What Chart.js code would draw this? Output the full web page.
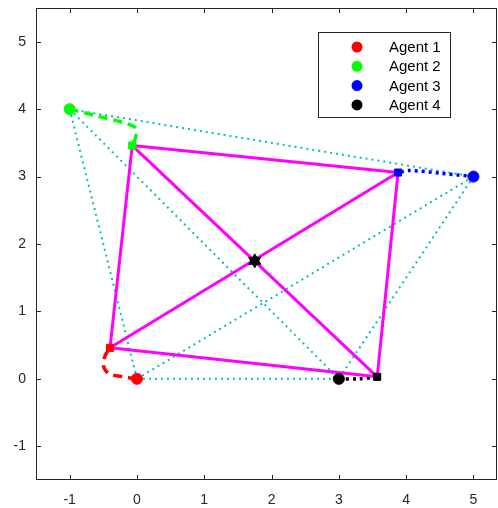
<!DOCTYPE html>
<html>
<head>
<meta charset="utf-8">
<script src="https://cdn.jsdelivr.net/npm/chart.js@4"></script>
<style>
body{margin:0;background:#fff;overflow:hidden;}
#wrap{width:498px;height:508px;}
canvas{display:block;}
</style>
</head>
<body>
<div id="wrap"><canvas id="canvas" width="498" height="508"></canvas></div>
<script>
// agent names and colours
const agents=["Agent 1","Agent 2","Agent 3","Agent 4"];
const agentColors=["#ff0000","#00ff00","#0000ff","#000000"];
// start positions
const startX=[0,-1,5,3];
const startY=[0,4,3,0];
// final positions
const endX=[-0.4,-0.07,3.88,3.57];
const endY=[0.46,3.46,3.06,0.03];
// trajectories
const path1X=[0,-0.2,-0.42,-0.5,-0.47,-0.4];
const path1Y=[0,0.03,0.08,0.2,0.35,0.46];
const path2X=[-1,-0.6,-0.2,-0.02,-0.02,-0.07];
const path2Y=[4,3.9,3.8,3.72,3.58,3.46];
const path3X=[5,4.5,4.05,3.88];
const path3Y=[3,3.05,3.09,3.06];
const path4X=[3,3.3,3.57];
const path4Y=[0,0,0.03];
// centre of formation
const centerX=[1.75];
const centerY=[1.75];
// links between agents
const edges=[[0,1],[0,2],[0,3],[1,2],[1,3],[2,3]];
// axis ticks
const xTicks=[-1,0,1,2,3,4,5];
const yTicks=[-1,0,1,2,3,4,5];

const pts=(xs,ys)=>xs.map((x,i)=>({x:x,y:ys[i]}));
const datasets=[];

edges.forEach(e=>{
    datasets.push({
        data:[{x:startX[e[0]],y:startY[e[0]]},{x:startX[e[1]],y:startY[e[1]]}],
        showLine:true,borderColor:"#00bfbf",borderWidth:2,borderDash:[2,4],
        pointRadius:0,order:10
    });
});
const paths=[[path1X,path1Y],[path2X,path2Y],[path3X,path3Y],[path4X,path4Y]];
paths.forEach((p,i)=>{
    datasets.push({
        data:pts(p[0],p[1]),
        showLine:true,borderColor:agentColors[i],borderWidth:3.5,
        borderDash:i<2?[9,6]:[3,4],tension:0.3,
        pointRadius:0,order:8
    });
});
edges.forEach(e=>{
    datasets.push({
        data:[{x:endX[e[0]],y:endY[e[0]]},{x:endX[e[1]],y:endY[e[1]]}],
        showLine:true,borderColor:"#ff00ff",borderWidth:3,
        pointRadius:0,order:6
    });
});
agents.forEach((a,i)=>{
    datasets.push({
        data:[{x:startX[i],y:startY[i]}],
        pointStyle:"circle",pointRadius:5.5,
        backgroundColor:agentColors[i],borderColor:agentColors[i],borderWidth:1,order:4
    });
    datasets.push({
        data:[{x:endX[i],y:endY[i]}],
        pointStyle:"rect",pointRadius:5,
        backgroundColor:agentColors[i],borderColor:agentColors[i],borderWidth:1,order:4
    });
});
datasets.push({
    data:pts(centerX,centerY),pointStyle:"triangle",pointRadius:7,
    backgroundColor:"#000",borderColor:"#000",borderWidth:1,order:2
});
datasets.push({
    data:pts(centerX,centerY),pointStyle:"triangle",rotation:180,pointRadius:7,
    backgroundColor:"#000",borderColor:"#000",borderWidth:1,order:2
});

const axisColor="#262626";
const tickFont="14px 'Liberation Sans', Arial, sans-serif";
// pin the plot box where the original figure has it
const areaPlugin={
    id:"area",
    afterLayout(chart){
        const a=chart.chartArea;
        a.left=36;a.right=497;a.top=8;a.bottom=480;
        a.width=a.right-a.left;a.height=a.bottom-a.top;
        const xs=chart.scales.x;
        xs.left=a.left;xs.right=a.right;xs.width=a.width;
        xs.configure();
        const ys=chart.scales.y;
        ys.top=a.top;ys.bottom=a.bottom;ys.height=a.height;
        ys.configure();
    }
};
const framePlugin={
    id:"frame",
    afterDraw(chart){
        const ctx=chart.ctx;
        const a=chart.chartArea;
        const xs=chart.scales.x;
        const ys=chart.scales.y;
        ctx.save();
        ctx.strokeStyle=axisColor;
        ctx.lineWidth=1;
        ctx.strokeRect(a.left+0.5,a.top+0.5,a.right-a.left-1,a.bottom-a.top-1);
        ctx.beginPath();
        xTicks.forEach(v=>{
            const px=Math.round(xs.getPixelForValue(v))+0.5;
            ctx.moveTo(px,a.bottom);ctx.lineTo(px,a.bottom-5);
            ctx.moveTo(px,a.top);ctx.lineTo(px,a.top+5);
        });
        yTicks.forEach(v=>{
            const py=Math.round(ys.getPixelForValue(v))+0.5;
            ctx.moveTo(a.left,py);ctx.lineTo(a.left+5,py);
            ctx.moveTo(a.right,py);ctx.lineTo(a.right-5,py);
        });
        ctx.stroke();
        // tick labels
        ctx.fillStyle=axisColor;
        ctx.font=tickFont;
        ctx.textAlign="center";
        ctx.textBaseline="middle";
        xTicks.forEach(v=>{
            ctx.fillText(String(v),xs.getPixelForValue(v),a.bottom+20);
        });
        ctx.textAlign="right";
        yTicks.forEach(v=>{
            ctx.fillText(String(v),a.left-10,ys.getPixelForValue(v));
        });
        // legend
        ctx.textAlign="left";
        const lx=318,ly=32,lw=132,lh=85;
        ctx.fillStyle="#fff";
        ctx.fillRect(lx,ly,lw,lh);
        ctx.strokeStyle=axisColor;
        ctx.strokeRect(lx+0.5,ly+0.5,lw,lh);
        ctx.font="15px 'Liberation Sans', Arial, sans-serif";
        agents.forEach((name,i)=>{
            const cy=ly+15+i*19.3;
            ctx.fillStyle=agentColors[i];
            ctx.beginPath();
            ctx.arc(357,cy,5.5,0,Math.PI*2);
            ctx.fill();
            ctx.fillStyle="#000";
            ctx.fillText(name,389,cy+1);
        });
        ctx.restore();
    }
};

new Chart(document.getElementById("canvas"),{
    type:"scatter",
    data:{datasets:datasets},
    options:{
        responsive:false,
        animation:false,
        layout:{padding:{top:8,right:1,left:0,bottom:0}},
        plugins:{legend:{display:false},tooltip:{enabled:false}},
        scales:{
            x:{
                type:"linear",min:-1.5,max:5.35,
                grid:{display:false},border:{display:false},
                afterBuildTicks:s=>{s.ticks=xTicks.map(v=>({value:v}));},
                afterFit:s=>{s.height=28;},
                ticks:{display:false}
            },
            y:{
                type:"linear",min:-1.5,max:5.5,
                grid:{display:false},border:{display:false},
                afterBuildTicks:s=>{s.ticks=yTicks.map(v=>({value:v}));},
                afterFit:s=>{s.width=36;},
                ticks:{display:false}
            }
        }
    },
    plugins:[areaPlugin,framePlugin]
});
</script>
</body>
</html>
